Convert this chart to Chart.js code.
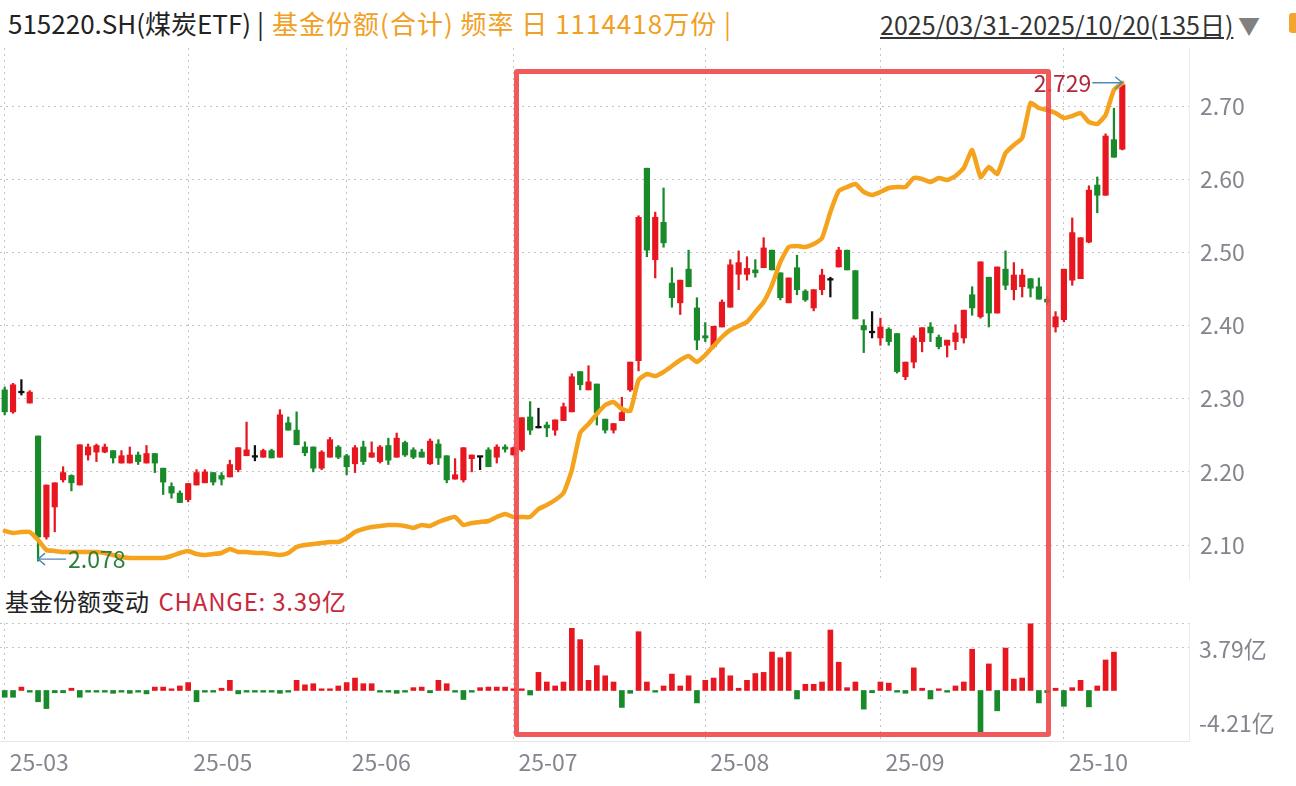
<!DOCTYPE html>
<html lang="zh-CN">
<head>
<meta charset="utf-8">
<title>515220.SH 煤炭ETF 基金份额</title>
<script src="https://cdn.jsdelivr.net/npm/chart.js@4.4.1/dist/chart.umd.min.js"></script>
<style>
  html, body { margin:0; padding:0; background:#ffffff; }
  body { position:relative; width:1296px; height:786px; overflow:hidden; font-family:"Noto Sans CJK SC","Noto Sans",sans-serif; }
  .abs { position:absolute; white-space:nowrap; }
  #hdr { left:8px; top:3px; font-size:26px; line-height:40px; color:#222; }
  #hdr .bar { margin-left:6px; margin-right:8px; }
  #hdr .or { color:#f0a024; letter-spacing:1px; }
  #range { left:880px; top:4px; font-size:25px; line-height:40px; color:#333; text-decoration:underline; }
  #tri { left:1238px; top:6px; font-size:22px; line-height:36px; color:#808080; }
  #btn { left:1289px; top:13px; width:10px; height:20px; background:#f2a531; border-radius:3px; }
  #sub { left:5px; top:583px; font-size:24px; line-height:36px; color:#222; }
  #sub .chg { color:#c8283c; margin-left:4px; letter-spacing:0.8px; }
  #c1 { position:absolute; left:0; top:48px; }
  #c2 { position:absolute; left:0; top:623px; }
  #box { position:absolute; left:514px; top:69px; width:537px; height:668px; box-sizing:border-box; border:5px solid rgba(240,72,72,0.9); border-radius:3px; pointer-events:none; }
</style>
</head>
<body>
<div id="hdr" class="abs">515220.SH(煤炭ETF)<span class="bar">|</span><span class="or">基金份额(合计) 频率 日 1114418万份 |</span></div>
<div id="range" class="abs">2025/03/31-2025/10/20(135日)</div>
<div id="tri" class="abs">▼</div>
<div id="btn" class="abs"></div>
<div id="sub" class="abs">基金份额变动 <span class="chg">CHANGE: 3.39亿</span></div>
<canvas id="c1" width="1296" height="533"></canvas>
<canvas id="c2" width="1296" height="163"></canvas>
<div id="box"></div>
<script>
// ---- data (trading-day index 0 = 2025/03/31 ... 134 = 2025/10/20) ----
const monthTickIdx    = [0, 22, 41, 61, 84, 105, 127];
const monthTickLabels = ['25-03','25-05','25-06','25-07','25-08','25-09','25-10'];
const priceTicks  = [2.10, 2.20, 2.30, 2.40, 2.50, 2.60, 2.70];
const changeTicks = [-4.21, 3.79];

const open = [2.312,2.282,2.308,2.294,2.249,2.111,2.152,2.189,2.195,2.182,
 2.223,2.227,2.227,2.229,2.212,2.212,2.223,2.212,2.225,2.205,
 2.180,2.171,2.162,2.182,2.185,2.199,2.195,2.193,2.203,2.222,
 2.220,2.220,2.229,2.220,2.267,2.257,2.234,2.234,2.205,2.220,
 2.234,2.222,2.211,2.234,2.220,2.214,2.236,2.220,2.240,2.230,
 2.227,2.211,2.238,2.222,2.190,2.189,2.218,2.220,2.230,2.220,
 2.234,2.223,2.230,2.275,2.260,2.264,2.257,2.270,2.282,2.337,
 2.312,2.320,2.272,2.257,2.270,2.312,2.352,2.615,2.490,2.541,
 2.458,2.431,2.477,2.424,2.386,2.371,2.398,2.425,2.470,2.470,
 2.476,2.479,2.503,2.472,2.431,2.479,2.447,2.424,2.449,2.462,
 2.480,2.503,2.475,2.400,2.390,2.383,2.395,2.389,2.330,2.350,
 2.378,2.398,2.384,2.373,2.378,2.383,2.442,2.412,2.466,2.417,
 2.477,2.449,2.453,2.464,2.453,2.436,2.398,2.408,2.462,2.464,
 2.514,2.592,2.578,2.654,2.641];
const high = [2.316,2.321,2.326,2.311,2.249,2.182,2.185,2.207,2.196,2.237,
 2.238,2.238,2.238,2.229,2.229,2.234,2.227,2.236,2.225,2.205,
 2.185,2.174,2.184,2.203,2.203,2.199,2.199,2.216,2.233,2.268,
 2.236,2.231,2.231,2.285,2.275,2.282,2.241,2.234,2.229,2.247,
 2.236,2.224,2.236,2.242,2.241,2.236,2.246,2.253,2.242,2.233,
 2.231,2.245,2.244,2.222,2.218,2.233,2.223,2.220,2.233,2.237,
 2.237,2.234,2.274,2.296,2.287,2.268,2.271,2.294,2.334,2.337,
 2.345,2.320,2.272,2.266,2.302,2.350,2.550,2.615,2.555,2.588,
 2.479,2.462,2.503,2.438,2.404,2.399,2.435,2.490,2.502,2.494,
 2.490,2.520,2.503,2.472,2.465,2.496,2.449,2.449,2.477,2.466,
 2.507,2.503,2.475,2.408,2.419,2.410,2.397,2.389,2.350,2.386,
 2.397,2.404,2.387,2.380,2.401,2.421,2.453,2.487,2.466,2.480,
 2.502,2.486,2.477,2.464,2.465,2.440,2.419,2.477,2.547,2.520,
 2.591,2.603,2.662,2.697,2.729];
const low = [2.278,2.280,2.305,2.294,2.078,2.108,2.118,2.186,2.174,2.182,
 2.216,2.214,2.226,2.212,2.212,2.212,2.210,2.212,2.199,2.169,
 2.164,2.158,2.159,2.182,2.185,2.182,2.182,2.193,2.200,2.222,
 2.215,2.220,2.219,2.220,2.257,2.237,2.222,2.200,2.203,2.220,
 2.218,2.196,2.199,2.210,2.220,2.212,2.210,2.220,2.221,2.218,
 2.220,2.210,2.210,2.185,2.190,2.186,2.200,2.203,2.207,2.212,
 2.227,2.223,2.228,2.251,2.260,2.248,2.250,2.270,2.282,2.312,
 2.312,2.264,2.253,2.253,2.270,2.310,2.338,2.494,2.465,2.507,
 2.425,2.415,2.453,2.367,2.378,2.369,2.398,2.425,2.449,2.462,
 2.466,2.479,2.476,2.435,2.431,2.442,2.433,2.420,2.442,2.439,
 2.480,2.476,2.409,2.363,2.383,2.373,2.373,2.335,2.326,2.342,
 2.364,2.378,2.368,2.357,2.367,2.376,2.414,2.410,2.398,2.417,
 2.449,2.435,2.439,2.439,2.436,2.428,2.391,2.405,2.455,2.464,
 2.513,2.554,2.578,2.630,2.640];
const close = [2.282,2.319,2.308,2.309,2.111,2.182,2.185,2.199,2.185,2.237,
 2.234,2.236,2.234,2.219,2.222,2.223,2.214,2.225,2.212,2.186,
 2.171,2.158,2.184,2.199,2.200,2.186,2.190,2.210,2.233,2.230,
 2.220,2.229,2.219,2.278,2.257,2.237,2.226,2.205,2.227,2.244,
 2.220,2.207,2.233,2.214,2.226,2.234,2.216,2.246,2.223,2.220,
 2.220,2.242,2.219,2.189,2.196,2.233,2.223,2.220,2.207,2.234,
 2.231,2.233,2.274,2.257,2.260,2.260,2.271,2.289,2.330,2.319,
 2.323,2.281,2.257,2.266,2.281,2.350,2.548,2.503,2.548,2.513,
 2.438,2.462,2.453,2.380,2.383,2.399,2.432,2.483,2.486,2.478,
 2.472,2.506,2.476,2.438,2.465,2.449,2.435,2.449,2.469,2.462,
 2.503,2.476,2.409,2.394,2.390,2.398,2.378,2.337,2.350,2.383,
 2.397,2.390,2.371,2.380,2.390,2.421,2.424,2.487,2.417,2.480,
 2.455,2.469,2.469,2.451,2.436,2.432,2.412,2.477,2.527,2.520,
 2.585,2.578,2.659,2.630,2.729];
// 基金份额(合计), 亿份
const shareTotal = [35.28,34.94,35.11,35.11,33.75,32.05,31.88,31.71,31.71,31.71,
 31.71,31.71,31.54,31.20,30.86,30.69,30.69,30.69,30.69,30.69,
 31.03,31.54,31.88,31.37,31.20,31.37,31.54,32.22,31.71,31.71,
 31.54,31.54,31.37,31.20,31.54,32.56,32.90,33.07,33.24,33.41,
 33.41,34.09,35.11,35.62,35.96,36.13,36.30,36.30,36.13,35.79,
 36.30,36.13,36.81,37.32,37.66,36.30,36.64,36.81,36.98,37.66,
 38.17,37.66,37.66,37.66,39.02,39.70,40.55,41.74,45.65,51.94,
 53.47,55.17,56.70,57.21,56.02,55.68,60.95,61.97,61.63,62.31,
 63.33,64.35,65.03,64.01,65.20,66.73,68.26,69.45,70.13,70.81,
 72.51,74.21,77.10,81.01,83.56,83.73,83.56,84.07,85.09,89.51,
 93.08,93.76,94.27,92.91,92.40,92.91,93.59,93.76,93.76,95.29,
 95.12,94.61,95.29,94.95,95.63,96.99,100.05,95.46,97.16,95.97,
 99.54,100.90,102.09,108.04,107.19,106.85,106.34,105.49,105.83,106.34,
 104.81,104.47,106.00,110.25,111.44];
// 基金份额变动, 亿
const shareChange = [-0.6,-0.6,0.3,-0.15,-1.0,-1.6,-0.2,-0.2,0.2,-0.6,
 -0.15,-0.15,-0.15,-0.25,-0.15,-0.25,-0.15,-0.3,0.3,0.3,
 0.15,0.4,0.7,-1.0,-0.15,-0.15,0.2,0.9,-0.3,-0.15,
 -0.15,-0.15,-0.15,-0.25,-0.15,0.9,0.5,0.6,0.15,0.15,
 0.4,0.7,1.1,0.6,0.6,-0.15,-0.15,-0.25,-0.15,0.25,
 0.3,-0.2,0.9,0.6,-0.15,-0.8,-0.15,0.25,0.3,0.3,
 0.3,0.15,0.15,-0.4,1.6,0.75,0.4,0.75,5.5,4.5,
 0.9,2.2,1.3,0.75,-1.5,-0.25,5.2,0.75,-0.15,0.4,
 1.45,0.4,1.3,-1.1,0.9,1.1,2.0,1.3,0.2,0.9,
 1.5,1.6,3.4,2.9,3.4,-0.75,0.55,0.55,0.75,5.35,
 2.5,0.25,0.75,-1.65,-0.2,0.75,0.65,-0.15,-0.25,2.0,
 0.2,-0.75,0.15,-0.15,0.4,0.75,3.65,-3.65,2.35,-1.8,
 3.75,1.0,1.1,5.9,-1.1,-0.2,0.2,-1.4,0.25,0.9,
 -1.45,0.4,2.7,3.39,null];

// ---- styling ----
const FONT = '"Noto Sans CJK SC","Noto Sans",sans-serif';
Chart.defaults.font.family = FONT;
const UP = '#e8161f', DOWN = '#188a2a', FLAT = '#111111';
const AXIS_TXT = '#85858f';
const GRID = '#c4c4c4';
const LINE = '#e6e6e6';
const X_MIN = -0.564, X_MAX = 142.0;
const N = close.length;
const candleColor = close.map((c, i) => c > open[i] ? UP : (c < open[i] ? DOWN : FLAT));

const xScaleBase = (showLabels) => ({
  type: 'linear', min: X_MIN, max: X_MAX, offset: false,
  afterBuildTicks: s => { s.ticks = monthTickIdx.map(v => ({ value: v })); },
  grid: { offset: false, color: GRID, drawTicks: false },
  border: { display: true, color: LINE, dash: [2, 4] },
  ticks: showLabels ? {
    display: true, autoSkip: false, maxRotation: 0, align: 'start', labelOffset: 5, padding: 7,
    color: AXIS_TXT, font: { size: 23, family: FONT },
    callback: v => { const k = monthTickIdx.indexOf(v); return k >= 0 ? monthTickLabels[k] : ''; }
  } : { display: false },
  afterFit: s => { s.height = showLabels ? 45 : 0; s.paddingLeft = 0; s.paddingRight = 0; }
});

const extremesPlugin = {
  id: 'extremes',
  afterDatasetsDraw(chart) {
    const { ctx, scales: { x, y } } = chart;
    let iMin = 0, iMax = 0;
    for (let i = 0; i < N; i++) { if (low[i] < low[iMin]) iMin = i; if (high[i] > high[iMax]) iMax = i; }
    ctx.save();
    ctx.font = '23px ' + FONT;
    ctx.textBaseline = 'middle';
    ctx.strokeStyle = '#4d8ab5'; ctx.lineWidth = 1.4;
    // lowest
    let px = x.getPixelForValue(iMin), py = y.getPixelForValue(low[iMin]) - 2;
    ctx.beginPath(); ctx.moveTo(px, py); ctx.lineTo(px + 28, py);
    ctx.moveTo(px + 7, py - 6); ctx.lineTo(px, py); ctx.lineTo(px + 7, py + 6); ctx.stroke();
    ctx.fillStyle = '#2b7f3a'; ctx.textAlign = 'left';
    ctx.fillText(low[iMin].toFixed(3), px + 30, py);
    // highest
    px = x.getPixelForValue(iMax); py = y.getPixelForValue(high[iMax]) - 2;
    ctx.beginPath(); ctx.moveTo(px, py); ctx.lineTo(px - 30, py);
    ctx.moveTo(px - 7, py - 6); ctx.lineTo(px, py); ctx.lineTo(px - 7, py + 6); ctx.stroke();
    ctx.fillStyle = '#b0283a'; ctx.textAlign = 'right';
    ctx.fillText(high[iMax].toFixed(3), px - 31, py);
    ctx.restore();
  }
};

new Chart(document.getElementById('c1'), {
  type: 'bar',
  data: {
    datasets: [
      { type: 'line', label: '基金份额(合计)', data: shareTotal.map((v, i) => ({ x: i, y: v })),
        yAxisID: 'yS', borderColor: '#f5a21c', borderWidth: 4.5, pointRadius: 0, tension: 0.15, order: 0,
        borderJoinStyle: 'round', borderCapStyle: 'round' },
      { label: 'body', data: open.map((o, i) => ({ x: i, y: [o, close[i]] })), yAxisID: 'y',
        backgroundColor: candleColor, barThickness: 5.5, minBarLength: 1.6, grouped: false, order: 1 },
      { label: 'wick', data: low.map((l, i) => ({ x: i, y: [l, high[i]] })), yAxisID: 'y',
        backgroundColor: candleColor, barThickness: 1.6, grouped: false, order: 2 }
    ]
  },
  options: {
    responsive: false, animation: false, maintainAspectRatio: false,
    layout: { padding: 0 },
    plugins: { legend: { display: false }, tooltip: { enabled: false } },
    scales: {
      x: xScaleBase(false),
      y: {
        type: 'linear', position: 'right', min: 2.0508, max: 2.7793,
        afterBuildTicks: s => { s.ticks = priceTicks.map(v => ({ value: v })); },
        grid: { color: GRID, drawTicks: false },
        border: { display: true, color: '#ececec', dash: [2, 4] },
        ticks: { color: AXIS_TXT, font: { size: 23, family: FONT }, padding: 11, callback: v => Number(v).toFixed(2) },
        afterFit: s => { s.width = 107; s.paddingTop = 0; s.paddingBottom = 0; }
      },
      yS: { type: 'linear', display: false, min: 26.78, max: 117.39 }
    }
  },
  plugins: [extremesPlugin]
});

const chg = shareChange.map((v, i) => ({ x: i, y: v })).filter(p => p.y !== null);
const subLabelsPlugin = {
  id: 'subLabels',
  afterDraw(chart) {
    const { ctx, chartArea, scales: { y } } = chart;
    ctx.save();
    ctx.font = '23px ' + FONT; ctx.fillStyle = AXIS_TXT;
    ctx.textAlign = 'left'; ctx.textBaseline = 'middle';
    changeTicks.forEach(v => {
      const off = v < 0 ? -15 : 2;
      ctx.fillText(v.toFixed(2) + '亿', chartArea.right + 10, y.getPixelForValue(v) + off);
    });
    ctx.restore();
  }
};
new Chart(document.getElementById('c2'), {
  type: 'bar',
  data: {
    datasets: [{ label: '基金份额变动', data: chg, backgroundColor: chg.map(p => p.y >= 0 ? UP : DOWN),
      barThickness: 5, minBarLength: 1.5, grouped: false }]
  },
  options: {
    responsive: false, animation: false, maintainAspectRatio: false,
    layout: { padding: 0 },
    plugins: { legend: { display: false }, tooltip: { enabled: false } },
    scales: {
      x: xScaleBase(true),
      y: {
        type: 'linear', position: 'right', min: -4.47, max: 5.97,
        afterBuildTicks: s => { s.ticks = changeTicks.concat([5.97]).map(v => ({ value: v })); },
        grid: { drawTicks: false, color: c => (c.tick && c.tick.value < 0) ? 'rgba(0,0,0,0)' : GRID },
        border: { display: true, color: '#ececec', dash: [2, 4] },
        ticks: { display: false },
        afterFit: s => { s.width = 107; s.paddingTop = 0; s.paddingBottom = 0; }
      }
    }
  },
  plugins: [subLabelsPlugin]
});
</script>
</body>
</html>
